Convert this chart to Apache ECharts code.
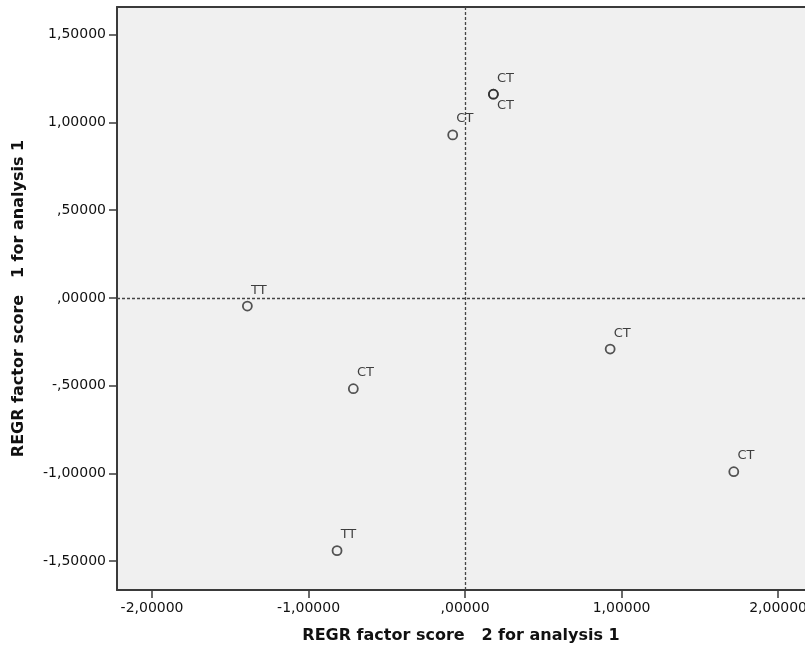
<!DOCTYPE html>
<html>
<head>
<meta charset="utf-8">
<script src="https://cdn.jsdelivr.net/npm/echarts@6/dist/echarts.min.js"></script>
<style>
  html, body { margin: 0; padding: 0; background: #fff; }
  #main { width: 805px; height: 650px; }
</style>
</head>
<body>
<div id="main"></div>
<script>
// factor scores
var score2 = [0.181, 0.181, -0.079, -1.391, -0.714, 0.927, 1.717, -0.818];
var score1 = [1.161, 1.161, 0.929, -0.046, -0.517, -0.291, -0.990, -1.440];
var groups = ['CT', 'CT', 'CT', 'TT', 'CT', 'CT', 'CT', 'TT'];

var xTicks = [-2, -1, 0, 1, 2];
var yTicks = [-1.5, -1, -0.5, 0, 0.5, 1, 1.5];

// SPSS style: comma decimal, no leading zero
function fmt(v) {
  var s = Math.abs(v).toFixed(5).replace('.', ',');
  if (s.charAt(0) === '0') s = s.slice(1);
  return (v < 0 ? '-' : '') + s;
}

var points = [];
for (var i = 0; i < score2.length; i++) {
  var dup = false;
  for (var j = 0; j < i; j++) {
    if (score2[j] === score2[i] && score1[j] === score1[i]) dup = true;
  }
  points.push({
    value: [score2[i], score1[i]],
    name: groups[i],
    label: { position: dup ? [9, 10] : [9, -17] }
  });
}

var textColor = '#111';
var lineColor = '#3a3a3a';
var font = 'DejaVu Sans';
var xMin = -2.224, xMax = 2.172;

var option = {
  backgroundColor: '#fff',
  animation: false,
  grid: {
    left: 117, top: 7, right: 0, bottom: 60,
    outerBoundsMode: 'none',
    show: true,
    backgroundColor: '#f0f0f0',
    borderWidth: 0
  },
  xAxis: [{
    type: 'value',
    min: xMin, max: xMax,
    name: 'REGR factor score   2 for analysis 1',
    nameLocation: 'middle',
    nameGap: 38,
    nameTextStyle: { fontFamily: font, fontSize: 16, fontWeight: 'bold', color: textColor },
    axisLine: { onZero: false, lineStyle: { color: lineColor, width: 2 } },
    axisTick: { show: true, length: 8, customValues: xTicks, lineStyle: { color: lineColor, width: 1.5 } },
    axisLabel: { customValues: xTicks, formatter: fmt, margin: 11, fontFamily: font, fontSize: 14, color: textColor },
    splitLine: { show: false }
  }, {
    // top frame line only
    type: 'value',
    position: 'top',
    min: xMin, max: xMax,
    axisLine: { show: true, onZero: false, lineStyle: { color: lineColor, width: 2 } },
    axisTick: { show: false },
    axisLabel: { show: false },
    splitLine: { show: false }
  }],
  yAxis: {
    type: 'value',
    min: -1.664, max: 1.658,
    name: 'REGR factor score   1 for analysis 1',
    nameLocation: 'middle',
    nameGap: 90,
    nameTextStyle: { fontFamily: font, fontSize: 16, fontWeight: 'bold', color: textColor },
    axisLine: { onZero: false, lineStyle: { color: lineColor, width: 2 } },
    axisTick: { show: true, length: 8, customValues: yTicks, lineStyle: { color: lineColor, width: 1.5 } },
    axisLabel: { customValues: yTicks, formatter: fmt, margin: 11, fontFamily: font, fontSize: 14, color: textColor },
    splitLine: { show: false }
  },
  series: [{
    type: 'scatter',
    symbol: 'circle',
    symbolSize: 9,
    itemStyle: { color: 'rgba(0,0,0,0)', borderColor: '#2a2a2a', borderWidth: 1.8 },
    label: {
      show: true,
      formatter: '{b}',
      fontFamily: font,
      fontSize: 13,
      color: textColor,
      align: 'left',
      verticalAlign: 'top'
    },
    data: points,
    markLine: {
      silent: true,
      symbol: 'none',
      label: { show: false },
      lineStyle: { color: '#444', type: [3, 2], width: 1.3 },
      data: [{ xAxis: 0 }, { yAxis: 0 }]
    }
  }]
};

var myChart = echarts.init(document.getElementById('main'));
myChart.setOption(option);
</script>
</body>
</html>
